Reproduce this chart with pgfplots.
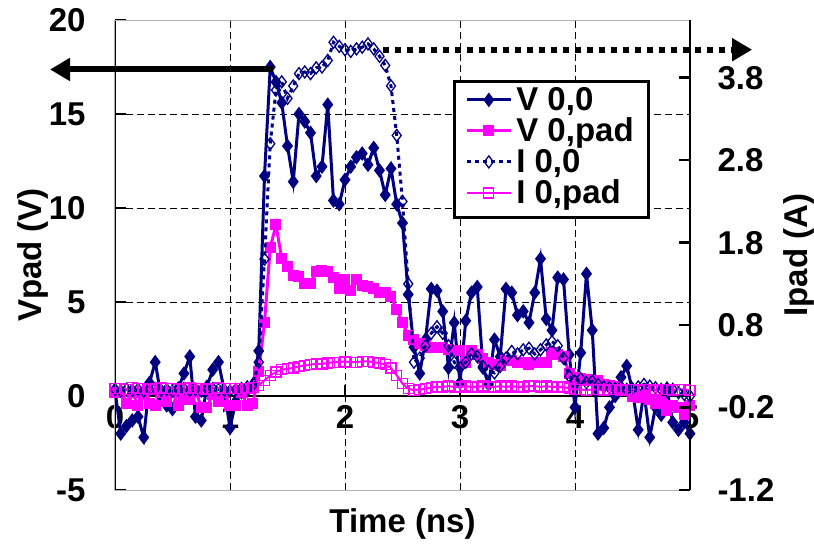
\documentclass[border=0pt]{standalone}
\usepackage{pgfplots}
\pgfplotsset{compat=1.18}
\usepackage{pgfplotstable}
\usepackage{fontspec}
\setmainfont{Liberation Sans}
\usetikzlibrary{arrows.meta}
\definecolor{navy}{RGB}{0,0,128}
\definecolor{mag}{RGB}{255,0,255}
\newcommand{\LF}{\fontsize{33bp}{36bp}\selectfont\bfseries}

\pgfplotstableread{
t v p
0.00 0.3 0.2
0.05 -2.0 0.2
0.10 -1.6 -0.4
0.15 -1.3 0.2
0.20 -1.1 -0.5
0.25 -2.2 0.1
0.30 0.7 -0.4
0.35 1.8 -0.5
0.40 0.0 0.2
0.45 -0.5 -0.3
0.50 -0.7 0.2
0.55 0.4 -0.5
0.60 1.2 0.1
0.65 2.1 -0.2
0.70 -1.1 0.3
0.75 -1.3 -0.6
0.80 0.5 -0.6
0.85 1.4 0.1
0.90 1.8 -0.3
0.95 0.3 0.2
1.00 -1.7 -0.5
1.05 -0.3 -0.5
1.10 0.2 0.2
1.15 0.3 -0.5
1.20 0.6 -0.4
1.25 2.4 1.3
1.30 11.7 3.9
1.35 17.5 7.9
1.40 16.7 9.1
1.45 15.6 7.3
1.50 13.3 6.9
1.55 11.4 6.4
1.60 15.0 6.35
1.65 14.6 6.0
1.70 14.0 6.0
1.75 11.7 6.6
1.80 12.2 6.7
1.85 15.5 6.6
1.90 10.4 6.3
1.95 10.2 5.7
2.00 11.5 6.2
2.05 12.2 5.6
2.10 12.7 6.2
2.15 12.9 5.9
2.20 12.3 5.8
2.25 13.2 5.7
2.30 12.0 5.5
2.35 10.7 5.5
2.40 12.1 5.3
2.45 10.2 4.6
2.50 9.2 3.9
2.55 5.4 3.2
2.60 2.6 3.0
2.65 1.2 2.8
2.70 3.0 2.7
2.75 5.7 2.6
2.80 5.6 2.6
2.85 4.5 2.6
2.90 1.5 2.5
2.95 3.9 2.4
3.00 0.7 2.4
3.05 4.0 1.8
3.10 5.5 2.4
3.15 5.8 2.2
3.20 1.5 2.0
3.25 0.6 1.8
3.30 3.0 1.7
3.35 2.1 1.6
3.40 5.7 1.9
3.45 5.5 1.9
3.50 4.3 1.8
3.55 4.5 1.8
3.60 3.9 1.7
3.65 5.5 1.8
3.70 7.3 1.8
3.75 4.1 1.8
3.80 3.5 2.3
3.85 6.3 2.2
3.90 6.2 2.1
3.95 2.2 1.2
4.00 -0.6 1.0
4.05 2.3 0.95
4.10 6.5 0.9
4.15 3.5 0.85
4.20 -2.0 0.8
4.25 -1.7 0.6
4.30 -0.6 0.55
4.35 0.0 0.5
4.40 1.0 0.35
4.45 1.6 0.3
4.50 0.3 0.0
4.55 -1.8 -0.1
4.60 0.2 0.1
4.65 -2.2 -0.2
4.70 -0.6 -0.4
4.75 -1.0 -0.3
4.80 0.4 -0.75
4.85 -1.4 -0.5
4.90 -1.8 -0.6
4.95 -1.4 -1.0
5.00 -2.0 -0.5
}\tabV

\pgfplotstableread{
t a b
0.00 0.02 0.03
0.05 0.00 0.03
0.10 0.02 0.02
0.15 0.01 0.04
0.20 0.02 0.03
0.25 0.00 0.03
0.30 0.02 0.02
0.35 0.03 0.03
0.40 0.01 0.04
0.45 0.02 0.03
0.50 0.00 0.03
0.55 0.02 0.02
0.60 0.03 0.03
0.65 0.01 0.04
0.70 0.02 0.03
0.75 0.00 0.03
0.80 0.02 0.02
0.85 0.03 0.03
0.90 0.02 0.04
0.95 0.01 0.03
1.00 0.00 0.03
1.05 0.02 0.03
1.10 0.03 0.03
1.15 0.05 0.03
1.20 0.08 0.04
1.25 0.35 0.07
1.30 1.60 0.13
1.35 3.00 0.19
1.40 3.65 0.23
1.45 3.75 0.26
1.50 3.55 0.27
1.55 3.70 0.28
1.60 3.85 0.30
1.65 3.87 0.31
1.70 3.85 0.32
1.75 3.92 0.33
1.80 3.93 0.33
1.85 4.01 0.34
1.90 4.23 0.35
1.95 4.18 0.35
2.00 4.14 0.36
2.05 4.12 0.35
2.10 4.15 0.35
2.15 4.17 0.36
2.20 4.21 0.36
2.25 4.15 0.35
2.30 4.06 0.34
2.35 3.95 0.32
2.40 3.70 0.28
2.45 3.10 0.19
2.50 2.30 0.09
2.55 1.30 0.03
2.60 0.35 0.01
2.65 0.40 0.02
2.70 0.55 0.03
2.75 0.70 0.04
2.80 0.78 0.05
2.85 0.70 0.05
2.90 0.55 0.06
2.95 0.35 0.05
3.00 0.28 0.05
3.05 0.35 0.06
3.10 0.45 0.05
3.15 0.42 0.05
3.20 0.30 0.06
3.25 0.24 0.05
3.30 0.22 0.05
3.35 0.30 0.06
3.40 0.40 0.05
3.45 0.48 0.06
3.50 0.45 0.05
3.55 0.50 0.05
3.60 0.52 0.06
3.65 0.45 0.06
3.70 0.50 0.05
3.75 0.56 0.06
3.80 0.60 0.05
3.85 0.55 0.05
3.90 0.40 0.05
3.95 0.18 0.03
4.00 0.12 0.02
4.05 0.15 0.02
4.10 0.10 0.01
4.15 0.12 0.02
4.20 0.08 0.02
4.25 0.05 0.01
4.30 0.04 0.02
4.35 0.03 0.02
4.40 0.05 0.01
4.45 0.02 0.02
4.50 0.03 0.02
4.55 0.05 0.01
4.60 0.08 0.02
4.65 0.06 0.02
4.70 0.04 0.01
4.75 0.02 0.02
4.80 0.00 0.02
4.85 0.02 0.01
4.90 -0.02 0.02
4.95 -0.04 0.02
5.00 -0.06 0.01
}\tabI

\begin{document}
\begin{tikzpicture}
\begin{axis}[
  name=main,
  width=575bp, height=470bp, scale only axis,
  xmin=0, xmax=5, ymin=-5, ymax=20,
  axis x line*=middle, axis y line*=left,
  hide obscured x ticks=false, hide obscured y ticks=false,
  axis line style={line width=2.5bp, black, -},
  xtick={0,1,2,3,4,5}, ytick={-5,0,5,10,15,20},
  tick align=inside, major tick length=11bp,
  every tick/.style={black, line width=2.5bp},
  xmajorgrids,
  grid style={black, line width=0.9bp, dash pattern=on 7bp off 4bp},
  extra y ticks={5,10,15}, extra y tick labels={},
  extra y tick style={grid=major, major tick length=0pt},
  tick label style={font=\LF},
  /pgf/number format/assume math mode=true,
  yticklabel style={xshift=-26bp},
  xticklabel style={yshift=-6bp},
  xlabel={Time (ns)}, ylabel={Vpad (V)},
  label style={font=\LF},
  xlabel style={at={(axis description cs:0.5,0)}, anchor=center, yshift=-34bp},
  ylabel style={at={(axis description cs:-0.142,0.5)}, anchor=center},
  clip=false,
]
\draw[gray!60, line width=1bp] (rel axis cs:0,0) rectangle (rel axis cs:1,1);
\addplot[navy, line width=3bp, mark=diamond*, mark size=6.5bp,
  mark options={solid, fill=navy, line width=1bp}] table[x=t,y=v] {\tabV};
\addplot[mag, line width=3bp, mark=square*, mark size=5bp,
  mark options={solid, fill=mag, line width=1bp}] table[x=t,y=p] {\tabV};
\coordinate (BBa) at (rel axis cs:-0.2,-0.1149);
\coordinate (BBb) at (rel axis cs:1.2157,1.0426);
\end{axis}

\begin{axis}[
  width=575bp, height=470bp, scale only axis,
  xmin=0, xmax=5, ymin=-1.2, ymax=4.5,
  hide x axis, axis y line*=right,
  axis line style={line width=2.5bp, black, -},
  ytick={-1.2,-0.2,0.8,1.8,2.8,3.8},
  tick align=inside, major tick length=11bp,
  every tick/.style={black, line width=2.5bp},
  tick label style={font=\LF},
  /pgf/number format/assume math mode=true,
  yticklabel style={xshift=24bp, /pgf/number format/fixed, /pgf/number format/precision=1, /pgf/number format/fixed zerofill},
  ylabel={Ipad (A)}, label style={font=\LF},
  ylabel style={at={(axis description cs:1.19,0.5)}, anchor=center},
  clip=false,
  legend style={at={(rel axis cs:0.588,0.872)}, anchor=north west, draw=black,
    line width=2.5bp, fill=white, font=\LF, inner xsep=11bp, inner ysep=6bp,
    row sep=0bp, nodes={inner xsep=4bp, inner ysep=0bp, text height=23bp, text depth=8bp}},
  legend cell align=left,
  legend image code/.code={\draw[mark repeat=2, mark phase=2, #1] plot coordinates {(0bp,3bp) (22bp,3bp) (44bp,3bp)};},
]
\addlegendimage{navy, line width=3bp, mark=diamond*, mark size=6.5bp, mark options={solid, fill=navy, line width=1bp}}
\addlegendentry{V 0,0}
\addlegendimage{mag, line width=3bp, mark=square*, mark size=5bp, mark options={solid, fill=mag, line width=1bp}}
\addlegendentry{V 0,pad}
\addplot[navy, line width=3bp, dash pattern=on 4bp off 4bp, mark=diamond, mark size=6bp,
  mark options={solid, fill=white, line width=1.3bp}] table[x=t,y=a] {\tabI};
\addlegendentry{I 0,0}
\addplot[mag, line width=2bp, mark=square, mark size=5bp,
  mark options={solid, fill=white, line width=1.3bp}] table[x=t,y=b] {\tabI};
\addlegendentry{I 0,pad}
\draw[line width=6bp, -{Triangle[length=20bp, width=22bp]}] (axis cs:1.37,3.90) -- (axis cs:-0.565,3.90);
\draw[line width=6bp, dash pattern=on 6bp off 6bp, -{Triangle[length=20bp, width=22bp]}] (axis cs:2.33,4.14) -- (axis cs:5.54,4.14);
\end{axis}
\pgfresetboundingbox
\useasboundingbox (BBa) rectangle (BBb);
\end{tikzpicture}
\end{document}
